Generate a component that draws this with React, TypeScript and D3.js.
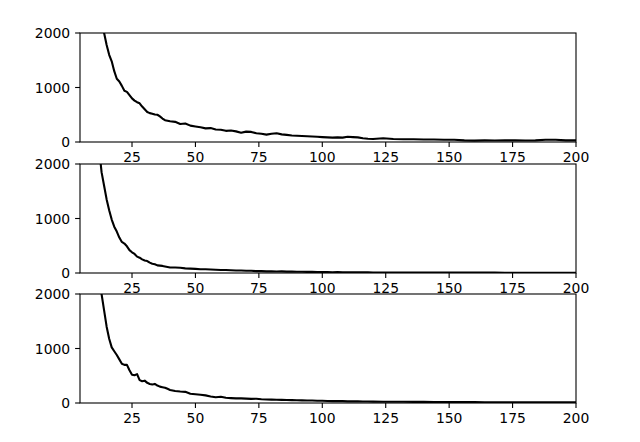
import { useEffect, useRef } from 'react';
import * as d3 from 'd3';

// x positions of the samples
const xs = [
  12, 13, 14, 15, 16, 17, 18, 19, 20, 21, 22, 23, 24, 25, 26, 27, 28, 29, 30, 31, 32, 33, 34, 35, 36, 37, 38, 39, 40,
  42, 44, 46, 48, 50, 52, 54, 56, 58, 60, 62, 64, 66, 68, 70, 72, 74, 76, 78, 80, 82, 84, 86, 88, 90, 92, 94, 96, 98, 100,
  102, 104, 106, 108, 110, 112, 114, 116, 118, 120,
  124, 128, 132, 136, 140, 144, 148, 152, 156, 160, 164, 168, 172, 176, 180, 184, 188, 192, 196, 200,
];

const seriesTop = [
  2700, 2350, 2000, 1780, 1600, 1480, 1300, 1160, 1110, 1030, 940, 920, 860, 800, 760, 730, 710, 650, 600, 550, 530, 520, 505, 500, 470, 430, 400, 390, 380,
  370, 330, 340, 300, 285, 270, 250, 255, 230, 225, 205, 210, 195, 170, 190, 185, 160, 150, 135, 150, 160, 140, 130, 120, 115, 110, 105, 100, 95, 90,
  85, 80, 85, 80, 95, 90, 85, 70, 60, 55,
  70, 55, 50, 50, 45, 45, 42, 40, 30, 25, 30, 28, 30, 30, 28, 30, 40, 40, 30, 30,
];

const seriesMid = [
  2300, 1850, 1600, 1350, 1150, 980, 850, 760, 650, 570, 540, 490, 420, 380, 350, 300, 280, 250, 230, 220, 190, 170, 160, 140, 135, 130, 120, 110, 100,
  100, 95, 85, 80, 75, 70, 70, 65, 60, 55, 55, 50, 45, 45, 40, 40, 35, 35, 30, 30, 28, 30, 25, 25, 22, 22, 20, 20, 18, 18,
  18, 15, 16, 14, 15, 13, 12, 12, 12, 10,
  10, 10, 9, 9, 8, 8, 7, 7, 7, 6, 6, 6, 5, 5, 5, 5, 4, 4, 4, 4,
];

const seriesBottom = [
  2500, 2000, 1700, 1400, 1180, 1020, 950, 880, 800, 720, 700, 700, 600, 520, 510, 530, 420, 400, 410, 370, 350, 340, 350, 320, 300, 290, 280, 260, 240,
  220, 210, 205, 170, 160, 150, 140, 120, 105, 115, 95, 90, 85, 85, 80, 75, 78, 70, 65, 62, 60, 58, 55, 52, 50, 48, 45, 45, 42, 40,
  38, 35, 36, 34, 30, 32, 30, 28, 27, 25,
  24, 23, 22, 20, 20, 18, 18, 17, 16, 16, 15, 15, 14, 14, 13, 13, 12, 12, 12, 11,
];

const xTicks = [25, 50, 75, 100, 125, 150, 175, 200];
const yTicks = [0, 1000, 2000];

const panels = [seriesTop, seriesMid, seriesBottom];

const W = 640;
const H = 442;
const left = 80;
const right = 576;
const tops = [33, 164, 294];
const panelH = 109;
const fontSize = 13.9;

const App = () => {
  const ref = useRef<SVGSVGElement | null>(null);

  useEffect(() => {
    if (!ref.current) return;
    const svg = d3.select(ref.current);
    svg.selectAll('*').remove();

    const x = d3.scaleLinear().domain([4.5, 200]).range([left, right]);

    panels.forEach((values, i) => {
      const top = tops[i];
      const bottom = top + panelH;
      const y = d3.scaleLinear().domain([0, 2000]).range([bottom, top]);
      const g = svg.append('g');

      g.append('defs')
        .append('clipPath')
        .attr('id', `clip${i}`)
        .append('rect')
        .attr('x', left)
        .attr('y', top)
        .attr('width', right - left)
        .attr('height', panelH);

      g.append('rect')
        .attr('x', left)
        .attr('y', top)
        .attr('width', right - left)
        .attr('height', panelH)
        .attr('fill', 'white');

      const line = d3.line<number>()
        .x((_, j) => x(xs[j]))
        .y(d => y(d));

      g.append('path')
        .datum(values)
        .attr('d', line)
        .attr('fill', 'none')
        .attr('stroke', 'black')
        .attr('stroke-width', 2.1)
        .attr('stroke-linejoin', 'round')
        .attr('clip-path', `url(#clip${i})`);

      // frame
      g.append('rect')
        .attr('x', left)
        .attr('y', top)
        .attr('width', right - left)
        .attr('height', panelH)
        .attr('fill', 'none')
        .attr('stroke', 'black')
        .attr('stroke-width', 1.1);

      // x ticks
      xTicks.forEach(t => {
        g.append('line')
          .attr('x1', x(t)).attr('x2', x(t))
          .attr('y1', bottom).attr('y2', bottom + 4.9)
          .attr('stroke', 'black').attr('stroke-width', 1.1);
        g.append('text')
          .attr('x', x(t))
          .attr('y', bottom + 9.8 + fontSize * 0.76)
          .attr('text-anchor', 'middle')
          .style('font-family', 'DejaVu Sans')
          .style('font-size', `${fontSize}px`)
          .text(t);
      });

      // y ticks
      yTicks.forEach(t => {
        g.append('line')
          .attr('x1', left - 4.9).attr('x2', left)
          .attr('y1', y(t)).attr('y2', y(t))
          .attr('stroke', 'black').attr('stroke-width', 1.1);
        g.append('text')
          .attr('x', left - 9.8)
          .attr('y', y(t))
          .attr('dy', '0.36em')
          .attr('text-anchor', 'end')
          .style('font-family', 'DejaVu Sans')
          .style('font-size', `${fontSize}px`)
          .text(t);
      });
    });
  }, []);

  return (
    <svg
      ref={ref}
      width={W}
      height={H}
      style={{ position: 'absolute', left: 0, top: 0, background: 'white' }}
    ></svg>
  );
};

export default App;
